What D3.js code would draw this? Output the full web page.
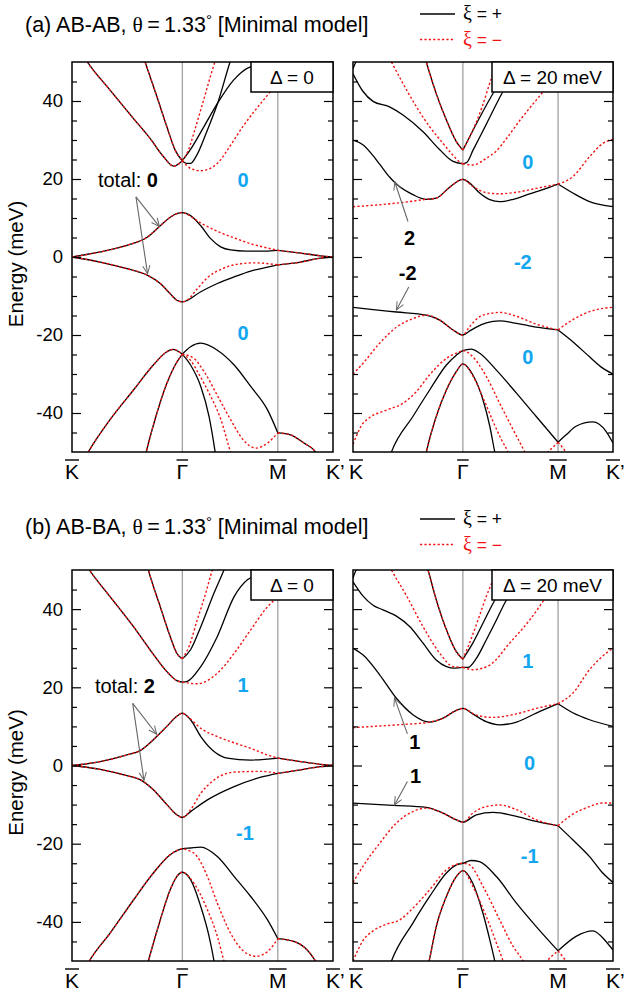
<!DOCTYPE html>
<html><head><meta charset="utf-8">
<script src="https://cdn.jsdelivr.net/npm/d3@7"></script>
<style>body{margin:0;background:#fff}svg{display:block}</style>
</head><body>
<svg id="chart" width="626" height="994"></svg>
<script>
// ---------- categories / ticks ----------
const kLabels = ["K", "Γ", "M", "K’"];
const kPositions = [0, 4, 7.464, 9.464];          // path length K→Γ→M→K'
const yTickLabels = [-40, -20, 0, 20, 40];
const yMinorTicks = [-45, -35, -30, -25, -15, -10, -5, 5, 10, 15, 25, 30, 35, 45];
const energyDomain = [-50, 50];

// ---------- (a) AB-AB, Δ = 0 ----------
const ababD0Plus = [
  [[0.3,53],[0.56,50],[1.38,42.8],[2.23,35.5],[2.83,30.4],[3.32,25.7],[3.68,23.3],[4,24.7]],
  [[2.5,53],[2.65,50],[3.08,41.1],[3.44,33.4],[3.74,27.4],[4,24.7]],
  [[4,24.7],[4.28,27.4],[4.79,33.5],[5.29,39.6],[5.85,45.3],[6.15,47.4],[6.45,48.7],[7,49.3],[7.5,49.5]],
  [[4,24.7],[4.15,24.0],[4.3,24.0],[4.5,25.8],[4.9,32.4],[5.29,39.6],[5.73,50],[5.8,51.5]],
  [[0,0],[1.02,1.3],[1.99,3.0],[2.71,5.0],[3.2,8.0],[3.56,10.2],[3.8,11.1],[4,11.4],[4.3,10.6],[4.67,8.0],[5.03,4.7],[5.39,2.6],[5.75,1.8],[6.3,1.5],[7,1.5],[7.464,1.7],[8.29,1.0],[9.01,0.3],[9.464,0]],
  [[0,0],[1.02,-1.3],[1.99,-3.0],[2.71,-4.6],[3.2,-6.8],[3.56,-9.4],[3.8,-11.1],[4,-11.5],[4.67,-8.9],[5.27,-6.8],[5.88,-5.1],[6.48,-3.6],[7.09,-2.6],[7.464,-2.0],[8.29,-1.3],[9.01,-0.3],[9.464,0]],
  [[0.35,-53],[0.59,-50],[1.38,-41.7],[2.23,-34.1],[2.95,-27.7],[3.44,-24.3],[3.66,-23.7],[4,-24.9]],
  [[2.55,-54],[2.69,-50],[3.08,-40.0],[3.44,-32.4],[3.74,-27.7],[4,-24.9]],
  [[4,-24.9],[4.3,-23.0],[4.67,-22.1],[5.27,-23.9],[5.88,-27.7],[6.48,-33.2],[7.09,-39.2],[7.464,-45.1],[7.92,-45.6],[8.41,-47.7],[8.83,-50],[9.0,-52]],
  [[4,-24.9],[4.3,-27.7],[4.67,-33.2],[4.97,-40.9],[5.19,-50],[5.25,-53]]
];
const ababD0Minus = [
  [[0.3,53],[0.56,50],[1.38,42.8],[2.23,35.5],[2.83,30.4],[3.32,25.7],[3.68,23.3],[4,24.7]],
  [[2.5,53],[2.65,50],[3.08,41.1],[3.44,33.4],[3.74,27.4],[4,24.7]],
  [[4,24.7],[4.22,27.4],[4.45,32.5],[4.7,38.5],[5.18,50],[5.3,52.5]],
  [[4,24.7],[4.3,22.7],[4.67,22.1],[5.27,24.0],[5.67,27.8],[6.2,33.5],[6.64,37.6],[7.09,41.5],[7.46,44.8],[7.9,48.5]],
  [[0,0],[1.02,1.3],[1.99,3.0],[2.71,5.0],[3.2,8.0],[3.56,10.2],[3.8,11.1],[4,11.4],[4.18,10.9],[4.67,8.7],[5.27,6.6],[5.88,4.9],[6.48,3.4],[7.09,2.3],[7.464,1.7],[8.29,1.0],[9.01,0.3],[9.464,0]],
  [[0,0],[1.02,-1.3],[1.99,-3.0],[2.71,-4.6],[3.2,-6.8],[3.56,-9.4],[3.8,-11.1],[4,-11.5],[4.18,-11.0],[4.54,-8.2],[4.91,-5.3],[5.39,-3.2],[5.88,-2.0],[6.61,-1.5],[7.464,-2.0],[8.29,-1.3],[9.01,-0.3],[9.464,0]],
  [[0.35,-53],[0.59,-50],[1.38,-41.7],[2.23,-34.1],[2.95,-27.7],[3.44,-24.3],[3.66,-23.7],[4,-24.9]],
  [[2.55,-54],[2.69,-50],[3.08,-40.0],[3.44,-32.4],[3.74,-27.7],[4,-24.9]],
  [[4,-24.9],[4.3,-26.5],[4.6,-30.0],[4.97,-34.9],[5.39,-41.5],[5.75,-50],[5.85,-52]],
  [[4,-24.9],[4.42,-26.0],[4.8,-29.5],[5.27,-35.5],[5.75,-41.7],[6.2,-46.8],[6.67,-49.0],[7.09,-47.7],[7.464,-45.1],[7.92,-45.6],[8.41,-47.7],[8.83,-50],[9.0,-52]]
];

// ---------- (a) AB-AB, Δ = 20 meV ----------
const ababD20Plus = [
  [[0,48.3],[0.05,49.2],[0.15,50.5],[0.2,51.5]],
  [[0,47.0],[0.36,42.5],[0.73,39.9],[1.33,38.5],[1.82,36.4],[2.55,32.1],[3.16,27.5],[3.64,24.5],[4,23.9]],
  [[2.55,53],[2.67,50],[3.03,41.9],[3.40,35.1],[3.76,29.6],[4,27.4]],
  [[4,27.4],[4.5,34.3],[5.16,42.7],[5.6,47.5],[6.0,51]],
  [[4,23.9],[4.15,24.3],[4.37,27.4],[4.85,34.0],[5.41,41.8],[5.9,47.5],[6.3,51]],
  [[0,30.0],[0.36,28.8],[0.73,26.0],[0.97,23.8],[1.33,20.5],[1.58,18.7],[2.18,16.0],[2.67,14.8],[3.03,15.1],[3.52,17.9],[4,19.9],[4.24,19.0],[4.61,16.4],[4.98,14.7],[5.34,14.2],[5.83,14.8],[6.43,16.2],[7.04,17.6],[7.464,18.7],[8.0,16.4],[8.61,14.2],[9.464,12.9]],
  [[0,-12.9],[0.73,-13.5],[1.58,-14.1],[2.67,-14.9],[3.16,-16.2],[3.64,-18.7],[4,-20.0],[4.24,-19.0],[4.49,-18.0],[4.85,-16.9],[5.34,-16.4],[5.95,-17.0],[6.67,-18.0],[7.464,-18.7],[8.0,-21.7],[8.61,-25.6],[9.09,-28.5],[9.464,-30.0]],
  [[1.25,-53],[1.40,-50],[2.18,-40.9],[2.79,-34.1],[3.40,-27.7],[3.76,-25.2],[4,-24.0],[4.3,-23.6],[4.6,-24.6],[5.22,-29.0],[5.95,-34.9],[6.67,-40.9],[7.464,-47.5],[7.76,-45.6],[8.12,-43.4],[8.73,-42.3],[9.21,-44.7],[9.464,-47.7]],
  [[2.55,-54],[2.67,-50],[3.03,-40.9],[3.40,-34.1],[3.76,-29.4],[4,-27.4],[4.36,-30.2],[4.73,-36.6],[4.98,-43.4],[5.16,-50],[5.25,-53]]
];
const ababD20Minus = [
  [[1.25,52],[1.40,50],[1.82,44.5],[2.31,38.5],[2.79,33.4],[3.28,29.1],[3.64,26.1],[3.88,24.4],[4,23.9]],
  [[2.55,53],[2.67,50],[3.03,41.9],[3.40,35.1],[3.76,29.6],[4,27.4]],
  [[4,27.4],[4.3,31.5],[4.7,38.5],[5.04,45.8],[5.3,50],[5.4,52]],
  [[4,23.9],[4.36,23.6],[4.85,25.3],[5.22,27.2],[5.6,30.5],[6.07,35.0],[6.5,38.8],[6.91,42.3],[7.3,46],[7.7,50]],
  [[0,12.9],[0.97,13.4],[1.82,14.0],[2.67,14.8],[3.03,15.1],[3.52,17.9],[4,19.9],[4.36,18.1],[4.85,16.5],[5.34,16.2],[5.95,16.6],[6.67,17.6],[7.464,18.7],[8.0,20.6],[8.61,25.7],[9.09,29.1],[9.464,30.2]],
  [[0,-30.0],[0.36,-27.3],[0.97,-22.1],[1.58,-18.0],[2.18,-15.8],[2.67,-14.9],[3.16,-16.2],[3.64,-18.7],[4,-20.0],[4.24,-17.9],[4.61,-15.3],[4.98,-14.5],[5.34,-14.2],[5.95,-15.2],[6.67,-17.2],[7.464,-18.7],[7.88,-16.6],[8.37,-14.7],[8.86,-13.5],[9.464,-12.9]],
  [[0,-48],[0.12,-46.0],[0.3,-43.3],[0.6,-41.2],[1.2,-39.3],[1.82,-37.5],[2.31,-34.5],[2.79,-30.2],[3.40,-26.0],[3.88,-24.3],[4,-24.0],[4.36,-25.6],[4.85,-30.6],[5.34,-37.5],[5.83,-44.3],[6.25,-50],[6.35,-51.5]],
  [[2.55,-54],[2.67,-50],[3.03,-40.9],[3.40,-34.1],[3.76,-29.4],[4,-27.4],[4.36,-30.5],[4.73,-36.0],[5.10,-42.2],[5.40,-46.8],[5.64,-50],[5.75,-52]],
  [[6.95,-51],[7.2,-49.3],[7.464,-47.5],[7.7,-49.5],[7.9,-51.5]]
];

// ---------- (b) AB-BA, Δ = 0 ----------
const abbaD0Plus = [
  [[0.4,52.5],[0.63,50],[1.38,43.2],[2.23,35.5],[2.83,29.6],[3.44,24.0],[3.80,21.7],[4,21.3]],
  [[4,21.3],[4.18,21.5],[4.67,25.3],[5.27,33.0],[5.88,43.2],[6.36,47.5],[6.73,48.7],[7.2,49.5],[7.6,49.8]],
  [[2.62,54],[2.77,50],[3.20,40.6],[3.56,33.0],[3.80,28.7],[4,27.3]],
  [[4,27.3],[4.30,29.6],[4.67,35.5],[5.15,44.1],[5.51,50],[5.65,52.5]],
  [[0,0],[1.02,1.0],[1.99,2.7],[2.47,3.8],[2.95,6.6],[3.44,10.0],[3.80,12.6],[4,13.4],[4.30,11.7],[4.67,7.4],[5.15,3.6],[5.63,1.9],[6.48,1.4],[7.464,1.9],[8.29,1.0],[9.01,0.3],[9.464,0]],
  [[0,0],[1.02,-1.0],[1.99,-2.6],[2.47,-3.6],[2.95,-6.2],[3.44,-10.0],[3.80,-12.6],[4,-13.3],[4.30,-11.8],[4.91,-8.8],[5.88,-5.4],[6.85,-3.0],[7.464,-2.0],[8.29,-1.1],[9.01,-0.3],[9.464,0]],
  [[0.4,-53],[0.63,-50],[1.38,-42.9],[2.23,-34.4],[2.95,-27.5],[3.56,-22.8],[4,-21.3],[4.30,-21.1],[4.67,-20.9],[5.27,-23.3],[5.88,-28.4],[6.48,-33.5],[7.09,-39.5],[7.464,-44.3],[8.04,-45.0],[8.53,-47.2],[8.83,-50],[9.0,-52]],
  [[2.62,-54],[2.77,-50],[3.20,-39.5],[3.56,-31.8],[3.80,-28.4],[4,-27.3],[4.30,-29.2],[4.67,-36.1],[4.97,-43.7],[5.15,-50],[5.22,-53]]
];
const abbaD0Minus = [
  [[0.4,52.5],[0.63,50],[1.38,43.2],[2.23,35.5],[2.83,29.6],[3.44,24.0],[3.80,21.7],[4,21.3]],
  [[4,21.3],[4.54,20.9],[5.27,23.6],[5.88,28.7],[6.48,34.7],[7.09,40.6],[7.46,43.2],[7.8,46]],
  [[2.62,54],[2.77,50],[3.20,40.6],[3.56,33.0],[3.80,28.7],[4,27.3]],
  [[4,27.3],[4.24,30.4],[4.54,37.2],[4.85,44.1],[5.09,50],[5.2,52]],
  [[0,0],[1.02,1.0],[1.99,2.7],[2.47,3.8],[2.95,6.6],[3.44,10.0],[3.80,12.6],[4,13.4],[4.18,12.6],[4.67,9.5],[5.27,7.4],[5.88,5.8],[6.48,4.4],[7.09,2.7],[7.464,1.9],[8.29,1.0],[9.01,0.3],[9.464,0]],
  [[0,0],[1.02,-1.0],[1.99,-2.6],[2.47,-3.6],[2.95,-6.2],[3.44,-10.0],[3.80,-12.6],[4,-13.3],[4.30,-11.3],[4.67,-7.1],[5.15,-3.7],[5.88,-1.7],[6.85,-1.5],[7.464,-2.0],[8.29,-1.1],[9.01,-0.3],[9.464,0]],
  [[0.4,-53],[0.63,-50],[1.38,-42.9],[2.23,-34.4],[2.95,-27.5],[3.56,-22.8],[4,-21.3],[4.18,-21.6],[4.54,-23.3],[4.91,-28.4],[5.27,-35.2],[5.75,-42.9],[6.24,-47.6],[6.67,-48.8],[7.09,-47.6],[7.464,-44.3],[8.04,-45.0],[8.53,-47.2],[8.83,-50],[9.0,-52]],
  [[2.62,-54],[2.77,-50],[3.20,-39.5],[3.56,-31.8],[3.80,-28.4],[4,-27.3],[4.42,-30.1],[4.91,-36.9],[5.27,-43.7],[5.51,-50],[5.6,-52]]
];

// ---------- (b) AB-BA, Δ = 20 meV ----------
const abbaD20Plus = [
  [[0,47.9],[0.05,49],[0.15,50.5],[0.2,51.5]],
  [[0,47.0],[0.36,43.4],[0.73,41.0],[1.09,39.8],[1.58,38.2],[2.07,35.5],[2.55,31.3],[3.03,27.0],[3.40,25.3],[3.70,24.9],[4,25.1]],
  [[2.6,53],[2.73,50],[3.03,42.4],[3.40,34.7],[3.76,29.1],[4,27.2]],
  [[4,27.2],[4.36,31.3],[4.73,36.4],[5.10,41.5],[5.34,44.5],[5.7,48.5],[6.0,51]],
  [[4,25.1],[4.18,25.1],[4.49,27.4],[4.85,32.1],[5.22,37.2],[5.52,41.5],[5.9,46],[6.2,50]],
  [[0,30.0],[0.36,28.3],[0.97,23.2],[1.58,17.2],[2.18,13.0],[2.79,11.1],[3.28,12.1],[3.76,14.1],[4,14.6],[4.36,13.2],[4.85,11.2],[5.34,10.4],[5.95,11.1],[6.67,13.4],[7.464,15.8],[8.0,13.5],[8.61,11.7],[9.464,10.0]],
  [[0,-9.6],[1.46,-10.2],[2.67,-10.7],[3.28,-12.2],[3.76,-13.9],[4,-14.5],[4.49,-12.6],[5.10,-12.0],[5.95,-13.0],[6.67,-14.3],[7.464,-15.4],[8.0,-19.0],[8.61,-23.3],[9.09,-27.5],[9.464,-29.9]],
  [[1.25,-53],[1.40,-50],[2.18,-40.3],[2.79,-33.5],[3.40,-27.5],[3.76,-25.4],[4,-25.0],[4.3,-24.3],[4.6,-24.6],[5.22,-28.4],[5.95,-35.2],[6.67,-41.2],[7.464,-47.4],[8.12,-43.7],[8.73,-42.3],[9.21,-45.0],[9.464,-47.2]],
  [[2.62,-54],[2.77,-50],[3.03,-41.2],[3.40,-33.5],[3.76,-28.4],[4,-26.9],[4.36,-30.1],[4.73,-37.8],[4.98,-44.6],[5.16,-50],[5.25,-53]]
];
const abbaD20Minus = [
  [[1.25,52],[1.40,50],[1.94,43.5],[2.55,35.5],[3.16,28.7],[3.64,25.3],[4,25.1]],
  [[2.6,53],[2.73,50],[3.03,42.4],[3.40,34.7],[3.76,29.1],[4,27.2]],
  [[4,27.2],[4.24,31.3],[4.55,37.2],[4.85,43.2],[5.10,47.5],[5.3,51]],
  [[4,25.1],[4.36,24.5],[4.98,25.7],[5.70,31.3],[6.43,37.2],[6.91,41.9],[7.3,46],[7.7,50]],
  [[0,9.7],[0.97,10.1],[1.82,10.5],[2.79,11.1],[3.28,12.1],[3.76,14.1],[4,14.6],[4.49,12.9],[5.10,12.3],[5.95,13.2],[6.67,14.6],[7.464,15.8],[8.0,18.5],[8.61,24.5],[9.21,28.7],[9.464,30.0]],
  [[0,-29.9],[0.36,-25.8],[0.97,-19.9],[1.58,-14.7],[2.18,-11.8],[2.67,-10.9],[3.28,-12.2],[3.76,-13.9],[4,-14.5],[4.36,-12.2],[4.85,-10.5],[5.34,-10.1],[5.95,-11.3],[6.67,-13.9],[7.464,-15.4],[7.88,-13.0],[8.61,-10.5],[9.09,-9.6],[9.464,-9.6]],
  [[0,-50],[0.18,-47.2],[0.36,-44.8],[0.73,-42.3],[1.21,-40.6],[1.70,-39.5],[2.18,-36.5],[2.79,-31.8],[3.40,-26.7],[3.88,-25.1],[4,-25.0],[4.24,-25.4],[4.73,-30.9],[5.34,-39.5],[5.83,-46.3],[6.19,-50],[6.3,-51.5]],
  [[2.62,-54],[2.77,-50],[3.03,-41.2],[3.40,-33.5],[3.76,-28.4],[4,-26.9],[4.36,-30.9],[4.85,-38.6],[5.22,-45.4],[5.46,-50],[5.55,-52]],
  [[7.0,-50.5],[7.2,-49],[7.464,-47.4],[7.76,-50],[7.9,-51.2]]
];

// ---------- annotations (k, E) ----------
const ababD0Chern = [["0", 6.2, 18.0], ["0", 6.2, -21.4]];
const ababD20Chern = [["0", 6.36, 22.6], ["-2", 6.18, -3.2], ["0", 6.36, -27.5]];
const abbaD0Chern = [["1", 6.2, 18.8], ["-1", 6.27, -19.0]];
const abbaD20Chern = [["1", 6.36, 24.9], ["0", 6.43, -1.1], ["-1", 6.43, -24.9]];
const ababD20Labels = [["2", 2.06, 3.1], ["-2", 1.99, -5.8]];
const abbaD20Labels = [["1", 2.25, 4.2], ["1", 2.28, -4.4]];
const ababD0Arrows = [[[2.32,15.4],[3.17,7.8]], [[2.32,15.4],[2.74,-4.3]]];
const ababD20Arrows = [[[2.0,9.1],[1.52,19.3]], [[2.03,-7.7],[1.58,-13.6]]];
const abbaD0Arrows = [[[2.2,15.9],[3.07,8.0]], [[2.2,15.9],[2.61,-3.8]]];
const abbaD20Arrows = [[[1.98,8.1],[1.51,17.3]], [[1.98,-4.1],[1.51,-10.1]]];
const totalLabels = [["total: ", "0", 0.94, 18.0], ["total: ", "2", 0.83, 18.6]];

// ---------- drawing ----------
const FONT = "'Liberation Sans', Arial, Helvetica, sans-serif";
const SERIF = "'Liberation Serif', 'Times New Roman', serif";
const RED = "#f01414", BLUE = "#12a6f0", GREY = "#999";
const svg = d3.select("#chart");
const defs = svg.append("defs");
defs.append("marker").attr("id", "arr").attr("viewBox", "0 0 10 10")
  .attr("refX", 9.5).attr("refY", 5).attr("markerWidth", 9).attr("markerHeight", 9)
  .attr("markerUnits", "userSpaceOnUse").attr("orient", "auto")
  .append("path").attr("d", "M0.5,1 L9.5,5 L0.5,9").attr("fill", "none")
  .attr("stroke", "#666").attr("stroke-width", 1.1);

const panels = [
  {id:"a0", x0:72, x1:333, y0:62, y1:452, plus:ababD0Plus, minus:ababD0Minus, box:"Δ = 0", boxW:82, left:true,
   chern:ababD0Chern, labels:[], arrows:ababD0Arrows, total:totalLabels[0]},
  {id:"a20", x0:353, x1:613, y0:62, y1:452, plus:ababD20Plus, minus:ababD20Minus, box:"Δ = 20 meV", boxW:121, left:false,
   chern:ababD20Chern, labels:ababD20Labels, arrows:ababD20Arrows, total:null},
  {id:"b0", x0:72, x1:333, y0:570, y1:961, plus:abbaD0Plus, minus:abbaD0Minus, box:"Δ = 0", boxW:82, left:true,
   chern:abbaD0Chern, labels:[], arrows:abbaD0Arrows, total:totalLabels[1]},
  {id:"b20", x0:353, x1:613, y0:570, y1:961, plus:abbaD20Plus, minus:abbaD20Minus, box:"Δ = 20 meV", boxW:121, left:false,
   chern:abbaD20Chern, labels:abbaD20Labels, arrows:abbaD20Arrows, total:null}
];

function splitAtM(band) {
  const i = band.findIndex(d => d[0] === kPositions[2]);
  return (i > 0 && i < band.length - 1) ? [band.slice(0, i + 1), band.slice(i)] : [band];
}

panels.forEach(p => {
  const x = d3.scaleLinear().domain([kPositions[0], kPositions[3]]).range([p.x0, p.x1]);
  const y = d3.scaleLinear().domain(energyDomain).range([p.y1, p.y0]);
  const g = svg.append("g");
  defs.append("clipPath").attr("id", "clip-" + p.id).append("rect")
    .attr("x", p.x0).attr("y", p.y0).attr("width", p.x1 - p.x0).attr("height", p.y1 - p.y0);

  g.selectAll("line.vl").data(kPositions.slice(1, 3)).join("line").attr("class", "vl")
    .attr("x1", d => x(d)).attr("x2", d => x(d)).attr("y1", p.y0).attr("y2", p.y1)
    .attr("stroke", GREY).attr("stroke-width", 1.2);

  const line = d3.line().x(d => x(d[0])).y(d => y(d[1])).curve(d3.curveMonotoneX);
  const cg = g.append("g").attr("clip-path", `url(#clip-${p.id})`);
  cg.selectAll("path.plus").data(p.plus.flatMap(splitAtM)).join("path").attr("class", "plus")
    .attr("d", line).attr("fill", "none").attr("stroke", "#000").attr("stroke-width", 1.3);
  cg.selectAll("path.minus").data(p.minus.flatMap(splitAtM)).join("path").attr("class", "minus")
    .attr("d", line).attr("fill", "none").attr("stroke", RED).attr("stroke-width", 1.4)
    .attr("stroke-dasharray", "2.2,2.2");

  const styleAxis = sel => {
    sel.select(".domain").remove();
    sel.selectAll(".tick line").attr("stroke", "#000").attr("stroke-width", 1.2);
  };
  g.append("g").attr("transform", `translate(${p.x0},0)`)
    .call(d3.axisLeft(y).tickValues(yMinorTicks).tickSize(-5).tickFormat(""))
    .call(styleAxis);
  g.append("g").attr("transform", `translate(${p.x1},0)`)
    .call(d3.axisRight(y).tickValues(yMinorTicks).tickSize(-5).tickFormat(""))
    .call(styleAxis);
  g.append("g").attr("transform", `translate(${p.x1},0)`)
    .call(d3.axisRight(y).tickValues(yTickLabels).tickSize(-9).tickFormat(""))
    .call(styleAxis);
  const la = g.append("g").attr("transform", `translate(${p.x0},0)`)
    .call(d3.axisLeft(y).tickValues(yTickLabels).tickSize(-9).tickPadding(9)
      .tickFormat(p.left ? (d => d) : ""))
    .call(styleAxis);
  la.selectAll(".tick text").attr("font-family", FONT).attr("font-size", 18.5).attr("fill", "#000");

  g.append("rect").attr("x", p.x0).attr("y", p.y0).attr("width", p.x1 - p.x0).attr("height", p.y1 - p.y0)
    .attr("fill", "none").attr("stroke", "#000").attr("stroke-width", 1.5);

  g.append("rect").attr("x", p.x1 - p.boxW).attr("y", p.y0).attr("width", p.boxW).attr("height", 30)
    .attr("fill", "#fff").attr("stroke", "#000").attr("stroke-width", 1.5);
  g.append("text").attr("x", p.x1 - p.boxW / 2).attr("y", p.y0 + 22).attr("text-anchor", "middle")
    .attr("font-family", FONT).attr("font-size", 19).text(p.box);

  kLabels.forEach((lab, i) => {
    const base = lab.replace("’", "");
    const cx = x(kPositions[i]) + (!p.left && i === 0 ? 3 : 0);
    const t = g.append("text").attr("x", cx).attr("y", p.y1 + 27).attr("text-anchor", "middle")
      .attr("font-family", FONT).attr("font-size", 21).text(base);
    const w = t.node().getComputedTextLength();
    g.append("line").attr("x1", cx - w / 2).attr("x2", cx + w / 2)
      .attr("y1", p.y1 + 8).attr("y2", p.y1 + 8).attr("stroke", "#000").attr("stroke-width", 1.4);
    if (lab !== base) {
      g.append("text").attr("x", cx + w / 2).attr("y", p.y1 + 27)
        .attr("font-family", FONT).attr("font-size", 21).text("’");
    }
  });

  if (p.left) {
    g.append("text").attr("transform", `translate(23,${y(0) + 7}) rotate(-90)`)
      .attr("text-anchor", "middle").attr("font-family", FONT).attr("font-size", 20.5).text("Energy (meV)");
  }

  g.selectAll("text.chern").data(p.chern).join("text").attr("class", "chern")
    .attr("x", d => x(d[1])).attr("y", d => y(d[2])).attr("text-anchor", "middle")
    .attr("font-family", FONT).attr("font-size", 20).attr("font-weight", "bold")
    .attr("fill", BLUE).text(d => d[0]);
  g.selectAll("text.blab").data(p.labels).join("text").attr("class", "blab")
    .attr("x", d => x(d[1])).attr("y", d => y(d[2])).attr("text-anchor", "middle")
    .attr("font-family", FONT).attr("font-size", 20).attr("font-weight", "bold").text(d => d[0]);
  if (p.total) {
    const t = g.append("text").attr("x", x(p.total[2])).attr("y", y(p.total[3]))
      .attr("font-family", FONT).attr("font-size", 20);
    t.append("tspan").text(p.total[0]);
    t.append("tspan").attr("font-weight", "bold").text(p.total[1]);
  }
  g.selectAll("line.arr").data(p.arrows).join("line").attr("class", "arr")
    .attr("x1", d => x(d[0][0])).attr("y1", d => y(d[0][1]))
    .attr("x2", d => x(d[1][0])).attr("y2", d => y(d[1][1]))
    .attr("stroke", "#666").attr("stroke-width", 1.1).attr("marker-end", "url(#arr)");
});

// ---------- titles and legends ----------
const titles = [["(a) AB-AB, ", 32, 14], ["(b) AB-BA, ", 533.5, 519]];
titles.forEach(([lead, base, legY]) => {
  const t = svg.append("text").attr("x", 25).attr("y", base).attr("font-family", FONT).attr("font-size", 21.5);
  t.append("tspan").text(lead);
  t.append("tspan").attr("font-family", SERIF).text("θ");
  t.append("tspan").text("\u2009=\u20091.33");
  t.append("tspan").attr("font-size", 15).attr("dy", -7).text("°");
  t.append("tspan").attr("dy", 7).text(" [Minimal model]");

  [["+", "#000", null, 0], ["−", RED, "2.2,2.2", 25.5]].forEach(([sign, col, dash, dy]) => {
    svg.append("line").attr("x1", 420).attr("x2", 455).attr("y1", legY + dy).attr("y2", legY + dy)
      .attr("stroke", col).attr("stroke-width", 1.3).attr("stroke-dasharray", dash);
    const lt = svg.append("text").attr("x", 463).attr("y", legY + dy + 6).attr("font-family", FONT)
      .attr("font-size", 17.5).attr("fill", col);
    lt.append("tspan").attr("font-family", SERIF).attr("font-size", 20).text("ξ");
    lt.append("tspan").text(" = " + sign);
  });
});
</script>
</body></html>
